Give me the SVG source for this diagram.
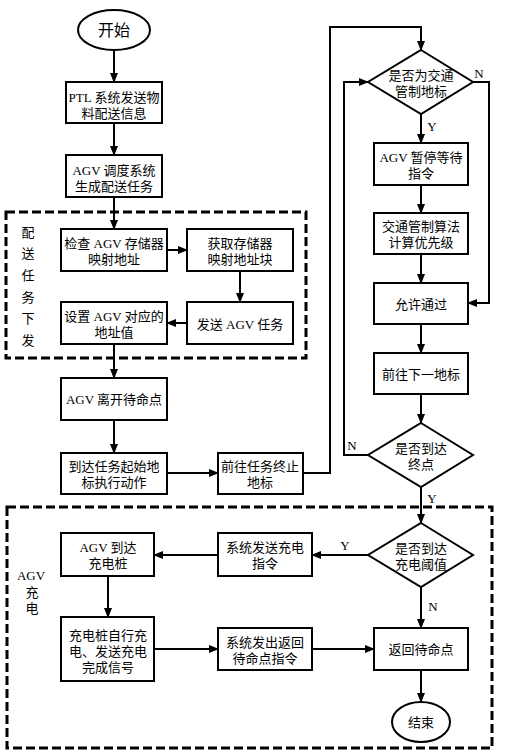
<svg xmlns="http://www.w3.org/2000/svg" width="512" height="755" viewBox="0 0 512 755">
<style>
.b{fill:#fff;stroke:#000;stroke-width:2}
.t{font-family:"Liberation Serif","Noto Sans CJK SC",serif;font-size:13px;text-anchor:middle;dominant-baseline:central;fill:#000}
.c{fill:none;stroke:#000;stroke-width:2}
.d{fill:none;stroke:#000;stroke-width:3;stroke-dasharray:9 4}
</style>
<defs>
<marker id="a" markerWidth="10" markerHeight="8" refX="9" refY="4" orient="auto" markerUnits="userSpaceOnUse">
<path d="M0,0 L10,4 L0,8 Z" fill="#000"/>
</marker>
</defs>
<rect width="512" height="755" fill="#fff"/>
<g id="groups">
<rect class="d" x="6" y="212" width="300" height="146"/>
<text class="t" x="28" y="232">配</text>
<text class="t" x="28" y="253">送</text>
<text class="t" x="28" y="275">任</text>
<text class="t" x="28" y="297">务</text>
<text class="t" x="28" y="318">下</text>
<text class="t" x="28" y="340">发</text>
<rect class="d" x="7" y="507" width="485" height="241"/>
<text class="t" x="31" y="575">AGV</text>
<text class="t" x="32" y="592">充</text>
<text class="t" x="32" y="608">电</text>
</g>
<g id="connectors">
<path class="c" d="M114,50 V82" marker-end="url(#a)"/>
<path class="c" d="M114,123 V155" marker-end="url(#a)"/>
<path class="c" d="M114,197 V229" marker-end="url(#a)"/>
<path class="c" d="M167,250 H187" marker-end="url(#a)"/>
<path class="c" d="M240,271 V302" marker-end="url(#a)"/>
<path class="c" d="M187,323 H167" marker-end="url(#a)"/>
<path class="c" d="M114,344 V378" marker-end="url(#a)"/>
<path class="c" d="M114,420 V453" marker-end="url(#a)"/>
<path class="c" d="M167,473 H218" marker-end="url(#a)"/>
<path class="c" d="M303,473 H330 V27 H421 V50" marker-end="url(#a)"/>
<path class="c" d="M421,114 V143" marker-end="url(#a)"/>
<path class="c" d="M421,185 V213" marker-end="url(#a)"/>
<path class="c" d="M421,254 V283" marker-end="url(#a)"/>
<path class="c" d="M421,324 V353" marker-end="url(#a)"/>
<path class="c" d="M421,394 V423" marker-end="url(#a)"/>
<path class="c" d="M473,82 H489 V303 H468" marker-end="url(#a)"/>
<path class="c" d="M368,455 H344 V82 H368" marker-end="url(#a)"/>
<path class="c" d="M421,487 V523" marker-end="url(#a)"/>
<path class="c" d="M368,555 H312" marker-end="url(#a)"/>
<path class="c" d="M218,555 H154" marker-end="url(#a)"/>
<path class="c" d="M108,576 V617" marker-end="url(#a)"/>
<path class="c" d="M154,649 H218" marker-end="url(#a)"/>
<path class="c" d="M312,649 H374" marker-end="url(#a)"/>
<path class="c" d="M421,587 V628" marker-end="url(#a)"/>
<path class="c" d="M421,670 V702" marker-end="url(#a)"/>
<text class="t" x="479" y="73">N</text>
<text class="t" x="432" y="126">Y</text>
<text class="t" x="352" y="445">N</text>
<text class="t" x="432" y="498">Y</text>
<text class="t" x="345" y="545">Y</text>
<text class="t" x="433" y="606">N</text>
</g>
<g id="start">
<ellipse class="b" cx="114" cy="30" rx="36" ry="20"/>
<text class="t" x="114" y="30" style="font-size:16px">开始</text>
</g>
<g id="ptl">
<rect class="b" x="66" y="82" width="96" height="41"/>
<text class="t" x="114" y="97">PTL 系统发送物</text>
<text class="t" x="114" y="113">料配送信息</text>
</g>
<g id="sched">
<rect class="b" x="66" y="155" width="96" height="42"/>
<text class="t" x="114" y="170">AGV 调度系统</text>
<text class="t" x="114" y="186">生成配送任务</text>
</g>
<g id="check">
<rect class="b" x="61" y="229" width="106" height="42"/>
<text class="t" x="114" y="243">检查 AGV 存储器</text>
<text class="t" x="114" y="259">映射地址</text>
</g>
<g id="acquire">
<rect class="b" x="187" y="229" width="106" height="42"/>
<text class="t" x="240" y="243">获取存储器</text>
<text class="t" x="240" y="259">映射地址块</text>
</g>
<g id="send">
<rect class="b" x="187" y="302" width="106" height="42"/>
<text class="t" x="240" y="324">发送 AGV 任务</text>
</g>
<g id="set">
<rect class="b" x="61" y="302" width="106" height="42"/>
<text class="t" x="114" y="316">设置 AGV 对应的</text>
<text class="t" x="114" y="332">地址值</text>
</g>
<g id="leave">
<rect class="b" x="61" y="378" width="106" height="42"/>
<text class="t" x="114" y="399">AGV 离开待命点</text>
</g>
<g id="arrive">
<rect class="b" x="61" y="453" width="106" height="41"/>
<text class="t" x="114" y="466">到达任务起始地</text>
<text class="t" x="114" y="482">标执行动作</text>
</g>
<g id="goend">
<rect class="b" x="218" y="453" width="85" height="41"/>
<text class="t" x="260" y="466">前往任务终止</text>
<text class="t" x="260" y="482">地标</text>
</g>
<g id="dec1">
<polygon class="b" points="421,50 473,82 421,114 368,82"/>
<text class="t" x="421" y="75">是否为交通</text>
<text class="t" x="421" y="91">管制地标</text>
</g>
<g id="pause">
<rect class="b" x="374" y="143" width="94" height="42"/>
<text class="t" x="421" y="157">AGV 暂停等待</text>
<text class="t" x="421" y="173">指令</text>
</g>
<g id="algo">
<rect class="b" x="374" y="213" width="94" height="41"/>
<text class="t" x="421" y="226">交通管制算法</text>
<text class="t" x="421" y="242">计算优先级</text>
</g>
<g id="allow">
<rect class="b" x="374" y="283" width="94" height="41"/>
<text class="t" x="421" y="304">允许通过</text>
</g>
<g id="next">
<rect class="b" x="374" y="353" width="94" height="41"/>
<text class="t" x="421" y="374">前往下一地标</text>
</g>
<g id="dec2">
<polygon class="b" points="421,423 473,455 421,487 368,455"/>
<text class="t" x="421" y="448">是否到达</text>
<text class="t" x="421" y="464">终点</text>
</g>
<g id="dec3">
<polygon class="b" points="421,523 473,555 421,587 368,555"/>
<text class="t" x="421" y="548">是否到达</text>
<text class="t" x="421" y="564">充电阈值</text>
</g>
<g id="sendcharge">
<rect class="b" x="218" y="533" width="94" height="43"/>
<text class="t" x="265" y="547">系统发送充电</text>
<text class="t" x="265" y="563">指令</text>
</g>
<g id="tocharger">
<rect class="b" x="61" y="533" width="93" height="43"/>
<text class="t" x="108" y="547">AGV 到达</text>
<text class="t" x="108" y="563">充电桩</text>
</g>
<g id="charging">
<rect class="b" x="61" y="617" width="93" height="64"/>
<text class="t" x="108" y="635">充电桩自行充</text>
<text class="t" x="108" y="651">电、发送充电</text>
<text class="t" x="108" y="667">完成信号</text>
</g>
<g id="sendreturn">
<rect class="b" x="218" y="628" width="94" height="42"/>
<text class="t" x="265" y="642">系统发出返回</text>
<text class="t" x="265" y="658">待命点指令</text>
</g>
<g id="return">
<rect class="b" x="374" y="628" width="94" height="42"/>
<text class="t" x="421" y="649">返回待命点</text>
</g>
<g id="end">
<ellipse class="b" cx="421" cy="722" rx="29" ry="20"/>
<text class="t" x="421" y="722">结束</text>
</g>
</svg>
